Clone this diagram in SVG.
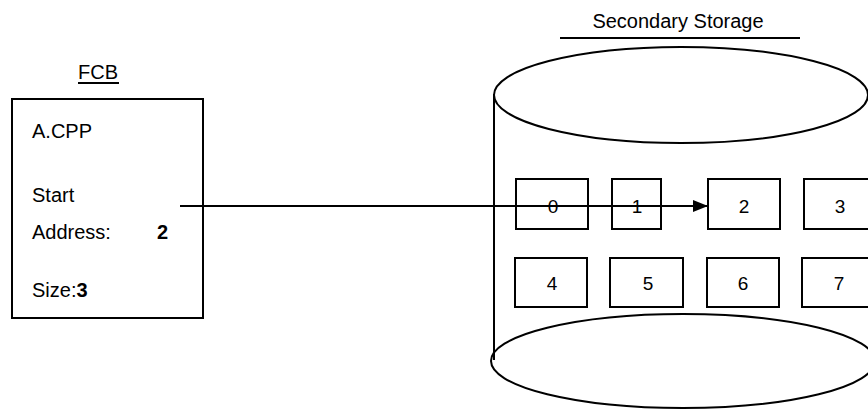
<svg xmlns="http://www.w3.org/2000/svg" width="868" height="411" viewBox="0 0 868 411">
<defs>
<style>
text{font-family:"Liberation Sans",Arial,sans-serif;fill:#000;}
.lbl{font-size:20px;}
.num{font-size:19px;text-anchor:middle;}
.b{font-weight:bold;}
.ln{fill:none;stroke:#000;stroke-width:2;}
.blk{fill:#fff;stroke:#000;stroke-width:2;}
</style>
<marker id="ah" markerWidth="15" markerHeight="12" refX="15" refY="6" orient="auto" markerUnits="userSpaceOnUse">
<path d="M0,0 L15,6 L0,12 Z" fill="#000"/>
</marker>
</defs>
<rect width="868" height="411" fill="#fff"/>
<g id="fcb">
<text class="lbl" x="98" y="79" text-anchor="middle">FCB</text>
<line class="ln" x1="78" y1="83" x2="119" y2="83"/>
<rect class="ln" x="12" y="99" width="191" height="219"/>
<text class="lbl" x="32" y="138">A.CPP</text>
<text class="lbl" x="32" y="202">Start</text>
<text class="lbl" x="32" y="239">Address:</text>
<text class="lbl b" x="157" y="239">2</text>
<text class="lbl" x="32" y="297">Size:<tspan class="b">3</tspan></text>
</g>
<g id="storage">
<text class="lbl" x="678" y="28" text-anchor="middle">Secondary Storage</text>
<line class="ln" x1="560" y1="38" x2="800" y2="38"/>
<line class="ln" x1="494" y1="94" x2="494" y2="360"/>
<ellipse class="ln" cx="681" cy="95" rx="187" ry="48"/>
<ellipse class="ln" cx="683" cy="361" rx="192" ry="47"/>
</g>
<g id="blocks">
<g id="b0"><rect class="blk" x="516" y="179" width="72" height="50"/><text class="num" x="553" y="213">0</text></g>
<g id="b1"><rect class="blk" x="612" y="179" width="49" height="50"/><text class="num" x="637" y="213">1</text></g>
<g id="b2"><rect class="blk" x="708" y="179" width="72" height="50"/><text class="num" x="744" y="213">2</text></g>
<g id="b3"><rect class="blk" x="804" y="179" width="72" height="50"/><text class="num" x="840" y="213">3</text></g>
<g id="b4"><rect class="blk" x="515" y="258" width="72" height="49"/><text class="num" x="552" y="290">4</text></g>
<g id="b5"><rect class="blk" x="610" y="258" width="73" height="49"/><text class="num" x="648" y="290">5</text></g>
<g id="b6"><rect class="blk" x="707" y="258" width="72" height="49"/><text class="num" x="743" y="290">6</text></g>
<g id="b7"><rect class="blk" x="802" y="258" width="74" height="49"/><text class="num" x="839" y="290">7</text></g>
</g>
<g id="connectors">
<line class="ln" x1="180" y1="206" x2="708" y2="206" marker-end="url(#ah)"/>
</g>
</svg>
